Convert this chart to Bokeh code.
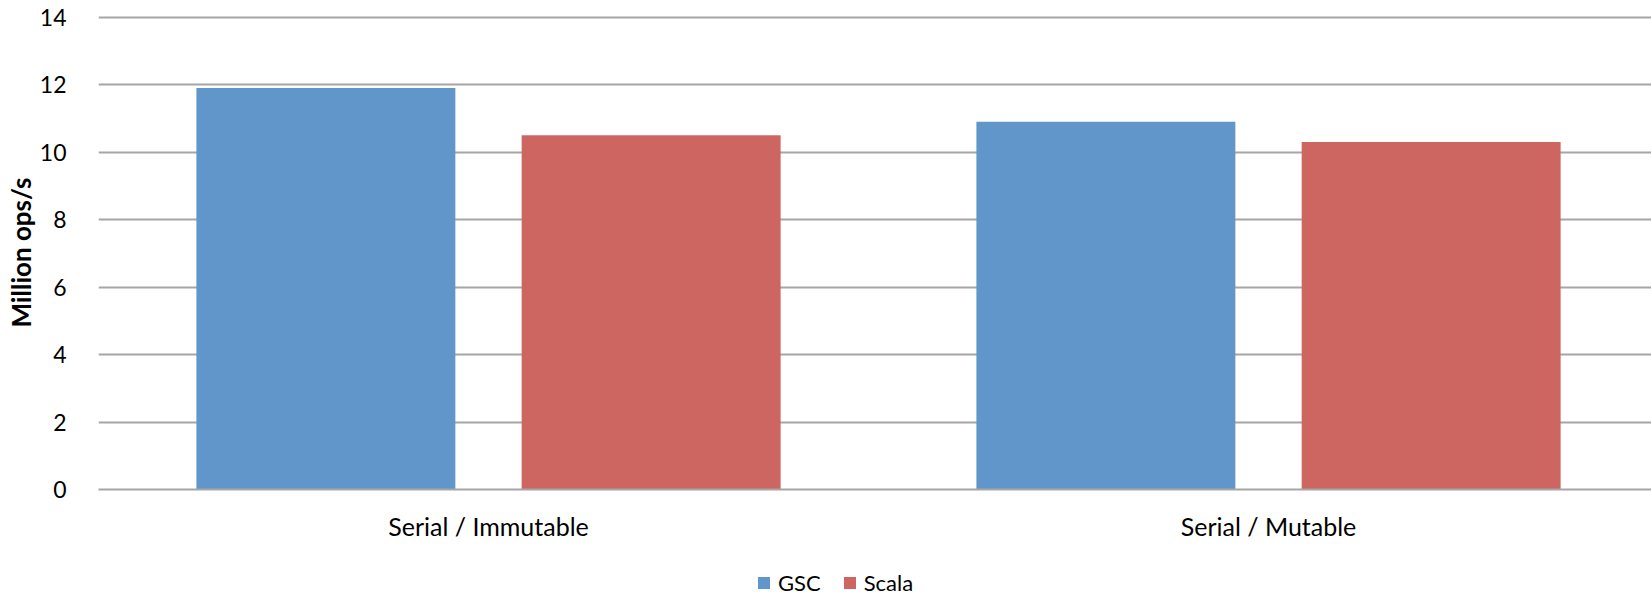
from bokeh.plotting import figure
from bokeh.layouts import column
from bokeh.models import Range1d, FixedTicker, Legend, LegendItem, ColumnDataSource
from bokeh.embed import file_html
from bokeh.resources import INLINE

categories = ["Serial / Immutable", "Serial / Mutable"]
series_names = ["GSC", "Scala"]
gsc = [11.9, 10.9]
scala = [10.5, 10.3]
y_ticks = [0, 2, 4, 6, 8, 10, 12, 14]

colors = ["#6096C9", "#CD6660"]
offsets = [-0.2085, 0.2085]
bar_w = 0.332
FONT = "Lato"

p = figure(width=1651, height=545, output_backend="svg", toolbar_location=None,
           x_range=Range1d(0, 1.991), y_range=Range1d(0, 14.053),
           min_border_left=98, min_border_right=0, min_border_top=15, min_border_bottom=56)
p.outline_line_color = None
p.background_fill_color = "white"
p.border_fill_color = "white"

centers = [i + 0.5 for i in range(len(categories))]
sources = []
for vals, off, col in zip([gsc, scala], offsets, colors):
    src = ColumnDataSource(dict(x=[c + off for c in centers], top=vals))
    sources.append(src)
    p.vbar(x="x", top="top", width=bar_w, bottom=0, source=src,
           fill_color=col, line_color=None)

# axes
p.xaxis.ticker = FixedTicker(ticks=centers)
p.xaxis.major_label_overrides = {c: cat for c, cat in zip(centers, categories)}
p.xaxis.major_tick_line_color = None
p.xaxis.minor_tick_line_color = None
p.xaxis.axis_line_color = "#a6a6a6"
p.xaxis.axis_line_width = 2
p.xaxis.major_label_standoff = 15
p.xaxis.major_label_text_font = FONT
p.xaxis.major_label_text_font_size = "25px"
p.xaxis.major_label_text_color = "black"

p.yaxis.ticker = FixedTicker(ticks=y_ticks)
p.yaxis.axis_line_color = None
p.yaxis.major_tick_line_color = None
p.yaxis.minor_tick_line_color = None
p.yaxis.major_label_standoff = 26
p.yaxis.major_label_text_font = FONT
p.yaxis.major_label_text_font_size = "23px"
p.yaxis.major_label_text_color = "black"
p.yaxis.axis_label = "Million ops/s"
p.yaxis.axis_label_text_font = FONT
p.yaxis.axis_label_text_font_style = "bold"
p.yaxis.axis_label_text_font_size = "26px"
p.yaxis.axis_label_text_color = "black"
p.yaxis.axis_label_standoff = 0

p.xgrid.grid_line_color = None
p.ygrid.grid_line_color = "#a6a6a6"
p.ygrid.grid_line_width = 2

# legend strip below the chart (its bars sit outside the visible y range)
lg = figure(width=1651, height=51, output_backend="svg", toolbar_location=None,
            x_axis_type=None, y_axis_type=None,
            x_range=Range1d(0, 1.991), y_range=Range1d(100, 101),
            min_border_left=0, min_border_right=0, min_border_top=0, min_border_bottom=0)
lg.grid.grid_line_color = None
lg.outline_line_color = None
lg.border_fill_color = "white"
leg_renderers = []
for src, off, col in zip(sources, offsets, colors):
    r = lg.vbar(x="x", top="top", width=bar_w, bottom=0, source=src,
                fill_color=col, line_color=None)
    leg_renderers.append(r)
legend = Legend(items=[LegendItem(label=n, renderers=[r]) for n, r in zip(series_names, leg_renderers)],
                orientation="horizontal", location=(658, 0),
                glyph_width=15, glyph_height=15, label_standoff=7, spacing=21,
                padding=0, margin=0, border_line_color=None, background_fill_alpha=0,
                label_text_font=FONT, label_text_font_size="22px", label_text_color="black")
lg.add_layout(legend, "center")

layout = column(p, lg, spacing=0)
open("out.html", "w").write(file_html(layout, INLINE))
